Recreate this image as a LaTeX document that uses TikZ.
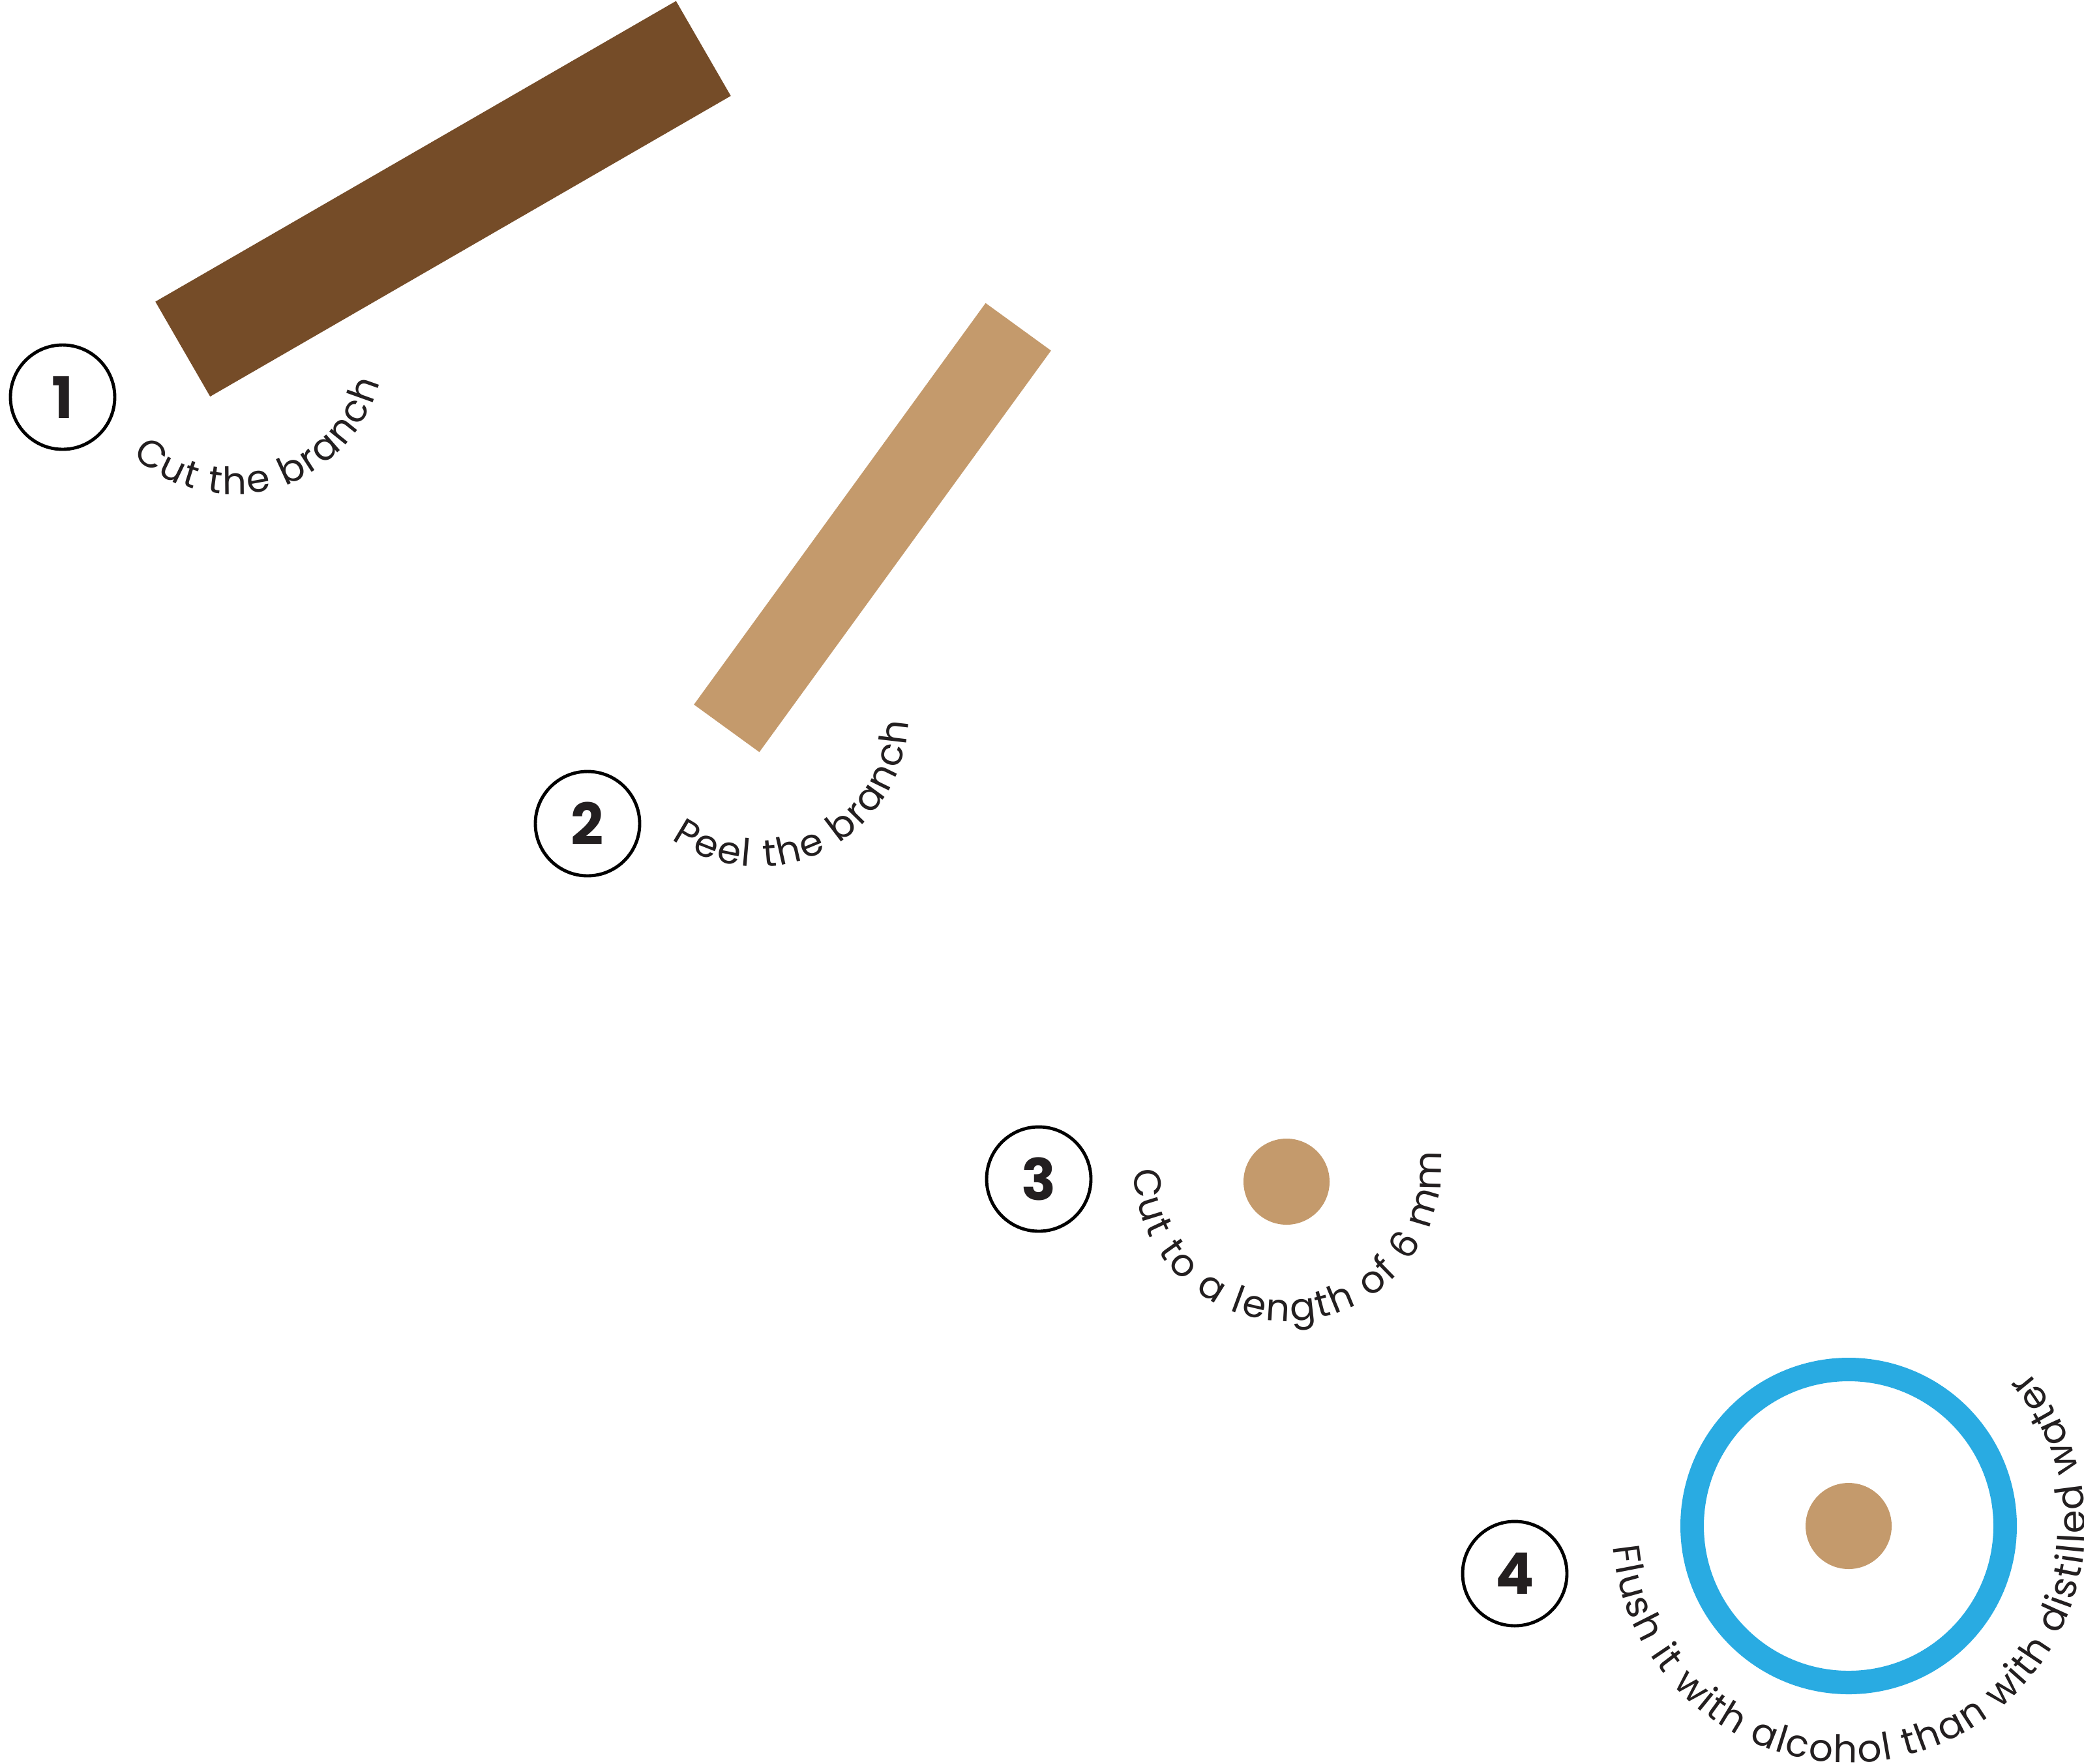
\documentclass[tikz,border=0pt]{standalone}
\usepackage{fontspec}
\setmainfont{Poppins}
\usepackage{xcolor}
\usetikzlibrary{decorations.text}

\definecolor{barkbrown}{HTML}{754C28}
\definecolor{woodtan}{HTML}{C49A6C}
\definecolor{flushblue}{HTML}{29ABE2}
\definecolor{inkgray}{HTML}{231F20}

\newcommand{\capfont}{\color{inkgray}\fontsize{16.5}{16.5}\selectfont}

\begin{document}
\begin{tikzpicture}[
    every node/.style={inner sep=0pt, outer sep=0pt},
    stepnum/.style={
        circle,
        draw=black,
        line width=1.4pt,
        minimum size=1.6cm,
        text=inkgray,
        font=\bfseries\fontsize{25}{25}\selectfont
    },
    stick/.style={
        rectangle,
        draw=none,
        fill=#1
    },
    dot/.style={
        circle,
        fill=woodtan,
        minimum size=1.32cm
    },
    curvetext/.style={
        decorate,
        decoration={text along path, text align={fit to path}, text={|\capfont|#1}}
    }
]
\useasboundingbox (0,0) rectangle (31.96,-27.04);

% step 1
\node (branch) [stick=barkbrown, rotate=30, minimum width=9.22cm, minimum height=1.68cm] at (6.795,-3.048) {};
\node (num1) [stepnum] at (0.96,-6.09) {1};
\coordinate (arc1) at (3.58,-5.26);
\path [curvetext={Cut the branch}] (arc1) ++(228:2.32) arc[start angle=228, end angle=345, radius=2.32];

% step 2
\node (peeled) [stick=woodtan, rotate=54, minimum width=7.61cm, minimum height=1.24cm] at (13.38,-8.09) {};
\node (num2) [stepnum] at (9.01,-12.63) {2};
\coordinate (arc2) at (11.62,-10.98);
\path [curvetext={Peel the branch}] (arc2) ++(235:2.31) arc[start angle=235, end angle=358, radius=2.31];

% step 3
\node (slice) [dot] at (19.73,-18.12) {};
\node (num3) [stepnum] at (15.93,-18.08) {3};
\coordinate (arc3) at (19.74,-17.90);
\path [curvetext={Cut to a length of 6 mm}] (arc3) ++(181:2.36) arc[start angle=181, end angle=366, radius=2.36];

% step 4
\node (ring) [circle, draw=flushblue, line width=0.36cm, minimum size=4.8cm] at (28.35,-23.40) {};
\node (sample) [dot] at (ring.center) {};
\node (num4) [stepnum] at (23.23,-24.13) {4};
\path [curvetext={Flush it with alcohol than with distilled water}] (ring.center) ++(185:3.63) arc[start angle=185, end angle=401, radius=3.63];

\end{tikzpicture}
\end{document}
